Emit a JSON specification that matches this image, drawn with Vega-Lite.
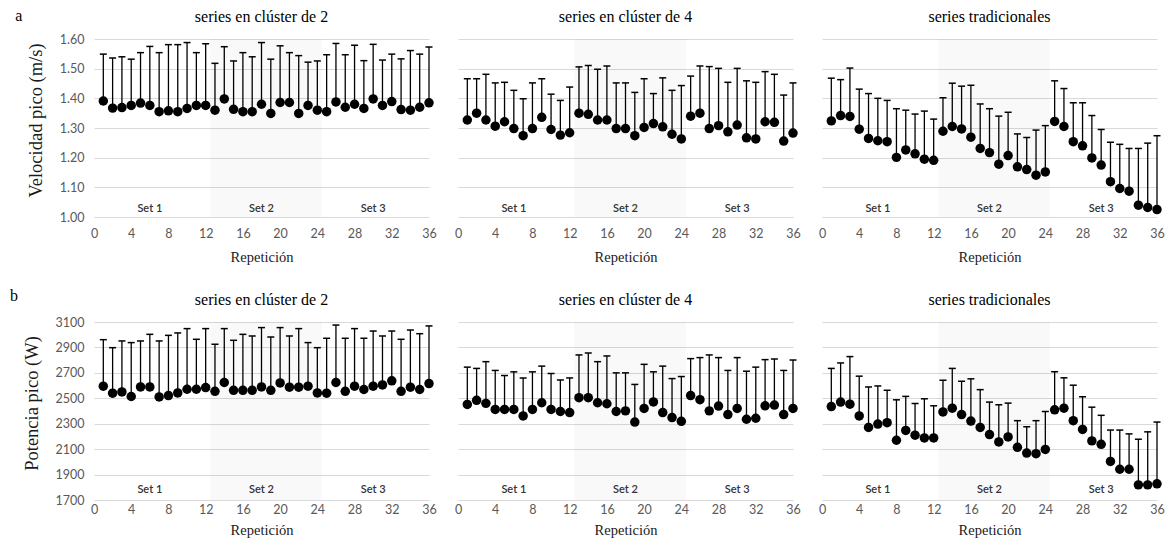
{
"$schema": "https://vega.github.io/schema/vega-lite/v6.json",
"padding": {"left": 10, "top": 8, "right": 1, "bottom": 3},
"config": {
  "view": {"stroke": null},
  "axis": {"grid": false, "domain": false, "ticks": false, "labelFont": "Lato", "labelFontSize": 12.5, "labelColor": "#595959", "titleFont": "Liberation Serif", "titleFontWeight": "normal", "titleColor": "#1a1a1a", "labelOverlap": false, "tickCount": 12},
  "axisX": {"titleFontSize": 14.5, "labelFlush": false},
  "axisY": {"titleFontSize": 18.5, "labelPadding": 10, "titlePadding": 14, "titleY": 81, "grid": true, "gridColor": "#d9d9d9", "gridWidth": 1},
  "header": {"labelFont": "Liberation Serif", "labelFontSize": 16, "labelColor": "#000", "labelPadding": 14, "title": null},
  "title": {"font": "Liberation Serif", "fontSize": 16, "fontWeight": "normal", "color": "#000"},
  "concat": {"spacing": 24}
},
"datasets": {"d": [
{"m":"v","c":"c2","r":1,"y":1.391,"u":1.549},{"m":"v","c":"c2","r":2,"y":1.367,"u":1.536},{"m":"v","c":"c2","r":3,"y":1.369,"u":1.540},{"m":"v","c":"c2","r":4,"y":1.376,"u":1.532},{"m":"v","c":"c2","r":5,"y":1.384,"u":1.554},{"m":"v","c":"c2","r":6,"y":1.376,"u":1.575},{"m":"v","c":"c2","r":7,"y":1.355,"u":1.554},{"m":"v","c":"c2","r":8,"y":1.358,"u":1.581},{"m":"v","c":"c2","r":9,"y":1.355,"u":1.581},{"m":"v","c":"c2","r":10,"y":1.366,"u":1.588},{"m":"v","c":"c2","r":11,"y":1.376,"u":1.554},{"m":"v","c":"c2","r":12,"y":1.376,"u":1.584},{"m":"v","c":"c2","r":13,"y":1.360,"u":1.518},{"m":"v","c":"c2","r":14,"y":1.398,"u":1.574},{"m":"v","c":"c2","r":15,"y":1.363,"u":1.526},{"m":"v","c":"c2","r":16,"y":1.355,"u":1.554},{"m":"v","c":"c2","r":17,"y":1.355,"u":1.540},{"m":"v","c":"c2","r":18,"y":1.380,"u":1.588},{"m":"v","c":"c2","r":19,"y":1.349,"u":1.532},{"m":"v","c":"c2","r":20,"y":1.386,"u":1.577},{"m":"v","c":"c2","r":21,"y":1.386,"u":1.554},{"m":"v","c":"c2","r":22,"y":1.349,"u":1.544},{"m":"v","c":"c2","r":23,"y":1.376,"u":1.522},{"m":"v","c":"c2","r":24,"y":1.360,"u":1.526},{"m":"v","c":"c2","r":25,"y":1.355,"u":1.547},{"m":"v","c":"c2","r":26,"y":1.388,"u":1.585},{"m":"v","c":"c2","r":27,"y":1.370,"u":1.547},{"m":"v","c":"c2","r":28,"y":1.380,"u":1.579},{"m":"v","c":"c2","r":29,"y":1.366,"u":1.527},{"m":"v","c":"c2","r":30,"y":1.398,"u":1.582},{"m":"v","c":"c2","r":31,"y":1.376,"u":1.529},{"m":"v","c":"c2","r":32,"y":1.389,"u":1.549},{"m":"v","c":"c2","r":33,"y":1.362,"u":1.533},{"m":"v","c":"c2","r":34,"y":1.360,"u":1.561},{"m":"v","c":"c2","r":35,"y":1.370,"u":1.549},{"m":"v","c":"c2","r":36,"y":1.385,"u":1.573},
{"m":"v","c":"c4","r":1,"y":1.327,"u":1.466},{"m":"v","c":"c4","r":2,"y":1.350,"u":1.466},{"m":"v","c":"c4","r":3,"y":1.327,"u":1.481},{"m":"v","c":"c4","r":4,"y":1.306,"u":1.452},{"m":"v","c":"c4","r":5,"y":1.321,"u":1.454},{"m":"v","c":"c4","r":6,"y":1.298,"u":1.427},{"m":"v","c":"c4","r":7,"y":1.274,"u":1.399},{"m":"v","c":"c4","r":8,"y":1.298,"u":1.452},{"m":"v","c":"c4","r":9,"y":1.336,"u":1.466},{"m":"v","c":"c4","r":10,"y":1.295,"u":1.414},{"m":"v","c":"c4","r":11,"y":1.276,"u":1.393},{"m":"v","c":"c4","r":12,"y":1.284,"u":1.438},{"m":"v","c":"c4","r":13,"y":1.350,"u":1.506},{"m":"v","c":"c4","r":14,"y":1.346,"u":1.511},{"m":"v","c":"c4","r":15,"y":1.327,"u":1.498},{"m":"v","c":"c4","r":16,"y":1.327,"u":1.509},{"m":"v","c":"c4","r":17,"y":1.298,"u":1.452},{"m":"v","c":"c4","r":18,"y":1.298,"u":1.452},{"m":"v","c":"c4","r":19,"y":1.274,"u":1.420},{"m":"v","c":"c4","r":20,"y":1.302,"u":1.466},{"m":"v","c":"c4","r":21,"y":1.315,"u":1.416},{"m":"v","c":"c4","r":22,"y":1.304,"u":1.469},{"m":"v","c":"c4","r":23,"y":1.279,"u":1.427},{"m":"v","c":"c4","r":24,"y":1.263,"u":1.443},{"m":"v","c":"c4","r":25,"y":1.340,"u":1.475},{"m":"v","c":"c4","r":26,"y":1.350,"u":1.509},{"m":"v","c":"c4","r":27,"y":1.298,"u":1.507},{"m":"v","c":"c4","r":28,"y":1.308,"u":1.501},{"m":"v","c":"c4","r":29,"y":1.287,"u":1.454},{"m":"v","c":"c4","r":30,"y":1.310,"u":1.501},{"m":"v","c":"c4","r":31,"y":1.267,"u":1.459},{"m":"v","c":"c4","r":32,"y":1.263,"u":1.454},{"m":"v","c":"c4","r":33,"y":1.321,"u":1.490},{"m":"v","c":"c4","r":34,"y":1.319,"u":1.481},{"m":"v","c":"c4","r":35,"y":1.256,"u":1.411},{"m":"v","c":"c4","r":36,"y":1.283,"u":1.452},
{"m":"v","c":"t","r":1,"y":1.324,"u":1.468},{"m":"v","c":"t","r":2,"y":1.342,"u":1.463},{"m":"v","c":"t","r":3,"y":1.339,"u":1.502},{"m":"v","c":"t","r":4,"y":1.296,"u":1.431},{"m":"v","c":"t","r":5,"y":1.265,"u":1.416},{"m":"v","c":"t","r":6,"y":1.257,"u":1.400},{"m":"v","c":"t","r":7,"y":1.254,"u":1.393},{"m":"v","c":"t","r":8,"y":1.201,"u":1.365},{"m":"v","c":"t","r":9,"y":1.226,"u":1.360},{"m":"v","c":"t","r":10,"y":1.213,"u":1.347},{"m":"v","c":"t","r":11,"y":1.195,"u":1.357},{"m":"v","c":"t","r":12,"y":1.191,"u":1.330},{"m":"v","c":"t","r":13,"y":1.289,"u":1.402},{"m":"v","c":"t","r":14,"y":1.305,"u":1.451},{"m":"v","c":"t","r":15,"y":1.297,"u":1.441},{"m":"v","c":"t","r":16,"y":1.269,"u":1.444},{"m":"v","c":"t","r":17,"y":1.231,"u":1.381},{"m":"v","c":"t","r":18,"y":1.217,"u":1.365},{"m":"v","c":"t","r":19,"y":1.178,"u":1.340},{"m":"v","c":"t","r":20,"y":1.207,"u":1.353},{"m":"v","c":"t","r":21,"y":1.169,"u":1.280},{"m":"v","c":"t","r":22,"y":1.160,"u":1.268},{"m":"v","c":"t","r":23,"y":1.141,"u":1.293},{"m":"v","c":"t","r":24,"y":1.152,"u":1.308},{"m":"v","c":"t","r":25,"y":1.322,"u":1.459},{"m":"v","c":"t","r":26,"y":1.305,"u":1.433},{"m":"v","c":"t","r":27,"y":1.254,"u":1.385},{"m":"v","c":"t","r":28,"y":1.240,"u":1.385},{"m":"v","c":"t","r":29,"y":1.199,"u":1.342},{"m":"v","c":"t","r":30,"y":1.175,"u":1.295},{"m":"v","c":"t","r":31,"y":1.119,"u":1.252},{"m":"v","c":"t","r":32,"y":1.096,"u":1.245},{"m":"v","c":"t","r":33,"y":1.087,"u":1.231},{"m":"v","c":"t","r":34,"y":1.040,"u":1.231},{"m":"v","c":"t","r":35,"y":1.032,"u":1.249},{"m":"v","c":"t","r":36,"y":1.025,"u":1.274},
{"m":"p","c":"c2","r":1,"y":2595,"u":2961},{"m":"p","c":"c2","r":2,"y":2540,"u":2898},{"m":"p","c":"c2","r":3,"y":2550,"u":2951},{"m":"p","c":"c2","r":4,"y":2514,"u":2938},{"m":"p","c":"c2","r":5,"y":2589,"u":2951},{"m":"p","c":"c2","r":6,"y":2589,"u":3003},{"m":"p","c":"c2","r":7,"y":2511,"u":2951},{"m":"p","c":"c2","r":8,"y":2521,"u":2995},{"m":"p","c":"c2","r":9,"y":2542,"u":3014},{"m":"p","c":"c2","r":10,"y":2571,"u":3048},{"m":"p","c":"c2","r":11,"y":2571,"u":2964},{"m":"p","c":"c2","r":12,"y":2584,"u":3048},{"m":"p","c":"c2","r":13,"y":2555,"u":2925},{"m":"p","c":"c2","r":14,"y":2624,"u":3048},{"m":"p","c":"c2","r":15,"y":2563,"u":2956},{"m":"p","c":"c2","r":16,"y":2563,"u":3003},{"m":"p","c":"c2","r":17,"y":2563,"u":2990},{"m":"p","c":"c2","r":18,"y":2589,"u":3056},{"m":"p","c":"c2","r":19,"y":2563,"u":2982},{"m":"p","c":"c2","r":20,"y":2621,"u":3056},{"m":"p","c":"c2","r":21,"y":2587,"u":2990},{"m":"p","c":"c2","r":22,"y":2587,"u":3048},{"m":"p","c":"c2","r":23,"y":2595,"u":2938},{"m":"p","c":"c2","r":24,"y":2542,"u":2898},{"m":"p","c":"c2","r":25,"y":2540,"u":2972},{"m":"p","c":"c2","r":26,"y":2624,"u":3076},{"m":"p","c":"c2","r":27,"y":2555,"u":2972},{"m":"p","c":"c2","r":28,"y":2595,"u":3048},{"m":"p","c":"c2","r":29,"y":2569,"u":2972},{"m":"p","c":"c2","r":30,"y":2595,"u":3029},{"m":"p","c":"c2","r":31,"y":2605,"u":2990},{"m":"p","c":"c2","r":32,"y":2637,"u":3029},{"m":"p","c":"c2","r":33,"y":2555,"u":2964},{"m":"p","c":"c2","r":34,"y":2587,"u":3037},{"m":"p","c":"c2","r":35,"y":2569,"u":3008},{"m":"p","c":"c2","r":36,"y":2616,"u":3069},
{"m":"p","c":"c4","r":1,"y":2452,"u":2745},{"m":"p","c":"c4","r":2,"y":2484,"u":2735},{"m":"p","c":"c4","r":3,"y":2460,"u":2788},{"m":"p","c":"c4","r":4,"y":2412,"u":2719},{"m":"p","c":"c4","r":5,"y":2412,"u":2679},{"m":"p","c":"c4","r":6,"y":2412,"u":2708},{"m":"p","c":"c4","r":7,"y":2361,"u":2660},{"m":"p","c":"c4","r":8,"y":2412,"u":2708},{"m":"p","c":"c4","r":9,"y":2465,"u":2753},{"m":"p","c":"c4","r":10,"y":2412,"u":2695},{"m":"p","c":"c4","r":11,"y":2396,"u":2644},{"m":"p","c":"c4","r":12,"y":2388,"u":2660},{"m":"p","c":"c4","r":13,"y":2505,"u":2841},{"m":"p","c":"c4","r":14,"y":2505,"u":2857},{"m":"p","c":"c4","r":15,"y":2465,"u":2788},{"m":"p","c":"c4","r":16,"y":2457,"u":2833},{"m":"p","c":"c4","r":17,"y":2396,"u":2700},{"m":"p","c":"c4","r":18,"y":2401,"u":2700},{"m":"p","c":"c4","r":19,"y":2313,"u":2609},{"m":"p","c":"c4","r":20,"y":2420,"u":2767},{"m":"p","c":"c4","r":21,"y":2471,"u":2708},{"m":"p","c":"c4","r":22,"y":2388,"u":2753},{"m":"p","c":"c4","r":23,"y":2348,"u":2655},{"m":"p","c":"c4","r":24,"y":2319,"u":2671},{"m":"p","c":"c4","r":25,"y":2521,"u":2812},{"m":"p","c":"c4","r":26,"y":2489,"u":2820},{"m":"p","c":"c4","r":27,"y":2401,"u":2841},{"m":"p","c":"c4","r":28,"y":2439,"u":2820},{"m":"p","c":"c4","r":29,"y":2372,"u":2719},{"m":"p","c":"c4","r":30,"y":2420,"u":2820},{"m":"p","c":"c4","r":31,"y":2335,"u":2713},{"m":"p","c":"c4","r":32,"y":2343,"u":2745},{"m":"p","c":"c4","r":33,"y":2441,"u":2804},{"m":"p","c":"c4","r":34,"y":2447,"u":2809},{"m":"p","c":"c4","r":35,"y":2372,"u":2719},{"m":"p","c":"c4","r":36,"y":2420,"u":2801},
{"m":"p","c":"t","r":1,"y":2435,"u":2735},{"m":"p","c":"t","r":2,"y":2470,"u":2778},{"m":"p","c":"t","r":3,"y":2454,"u":2828},{"m":"p","c":"t","r":4,"y":2361,"u":2674},{"m":"p","c":"t","r":5,"y":2271,"u":2589},{"m":"p","c":"t","r":6,"y":2297,"u":2597},{"m":"p","c":"t","r":7,"y":2308,"u":2563},{"m":"p","c":"t","r":8,"y":2170,"u":2488},{"m":"p","c":"t","r":9,"y":2247,"u":2515},{"m":"p","c":"t","r":10,"y":2210,"u":2459},{"m":"p","c":"t","r":11,"y":2188,"u":2496},{"m":"p","c":"t","r":12,"y":2188,"u":2441},{"m":"p","c":"t","r":13,"y":2393,"u":2642},{"m":"p","c":"t","r":14,"y":2422,"u":2735},{"m":"p","c":"t","r":15,"y":2372,"u":2634},{"m":"p","c":"t","r":16,"y":2321,"u":2653},{"m":"p","c":"t","r":17,"y":2271,"u":2568},{"m":"p","c":"t","r":18,"y":2215,"u":2470},{"m":"p","c":"t","r":19,"y":2157,"u":2449},{"m":"p","c":"t","r":20,"y":2196,"u":2462},{"m":"p","c":"t","r":21,"y":2114,"u":2324},{"m":"p","c":"t","r":22,"y":2069,"u":2276},{"m":"p","c":"t","r":23,"y":2064,"u":2324},{"m":"p","c":"t","r":24,"y":2098,"u":2396},{"m":"p","c":"t","r":25,"y":2409,"u":2709},{"m":"p","c":"t","r":26,"y":2422,"u":2661},{"m":"p","c":"t","r":27,"y":2324,"u":2603},{"m":"p","c":"t","r":28,"y":2255,"u":2512},{"m":"p","c":"t","r":29,"y":2165,"u":2430},{"m":"p","c":"t","r":30,"y":2138,"u":2366},{"m":"p","c":"t","r":31,"y":2003,"u":2250},{"m":"p","c":"t","r":32,"y":1942,"u":2250},{"m":"p","c":"t","r":33,"y":1942,"u":2220},{"m":"p","c":"t","r":34,"y":1819,"u":2178},{"m":"p","c":"t","r":35,"y":1819,"u":2236},{"m":"p","c":"t","r":36,"y":1827,"u":2313}
]},
"vconcat": [
{
  "data": {"name": "d"},
  "transform": [{"filter": "datum.m == 'v'"}],
  "title": {"text": "a", "orient": "left", "angle": 0, "anchor": "end", "frame": "bounds", "baseline": "top", "align": "left", "offset": 4, "dy": -1},
  "spacing": 24,
  "facet": {"column": {"field": "c", "type": "nominal", "header": {"labelExpr": "datum.value == 'c2' ? 'series en clúster de 2' : datum.value == 'c4' ? 'series en clúster de 4' : 'series tradicionales'"}}},
  "spec": {
    "width": 335, "height": 178,
    "encoding": {"x": {"field": "r", "type": "quantitative", "scale": {"domain": [0, 36], "nice": false}, "axis": {"values": [0,4,8,12,16,20,24,28,32,36], "title": "Repetición", "labelPadding": 10, "titlePadding": 11}}},
    "layer": [
      {"transform": [{"filter": "datum.r == 1"}], "mark": {"type": "rect", "color": "#000", "opacity": 0.025}, "encoding": {"x": {"datum": 12.5}, "x2": {"datum": 24.5}}},
      {"mark": {"type": "rule", "color": "#000", "strokeWidth": 1.3}, "encoding": {"y": {"field": "y", "type": "quantitative", "scale": {"domain": [1.0, 1.6], "nice": false}, "axis": {"values": [1.0,1.1,1.2,1.3,1.4,1.5,1.6], "format": ".2f", "title": "Velocidad pico (m/s)"}}, "y2": {"field": "u"}}},
      {"mark": {"type": "tick", "orient": "horizontal", "color": "#000", "size": 7, "thickness": 1.5, "opacity": 1}, "encoding": {"y": {"field": "u", "type": "quantitative"}}},
      {"mark": {"type": "circle", "color": "#000", "size": 90, "opacity": 1}, "encoding": {"y": {"field": "y", "type": "quantitative"}}},
      {"transform": [{"filter": "datum.r == 1"}], "mark": {"type": "text", "font": "Lato", "fontSize": 11, "fontWeight": 600, "color": "#333"}, "encoding": {"x": {"datum": 6}, "y": {"datum": 1.026}, "text": {"value": "Set 1"}}},
      {"transform": [{"filter": "datum.r == 1"}], "mark": {"type": "text", "font": "Lato", "fontSize": 11, "fontWeight": 600, "color": "#333"}, "encoding": {"x": {"datum": 18}, "y": {"datum": 1.026}, "text": {"value": "Set 2"}}},
      {"transform": [{"filter": "datum.r == 1"}], "mark": {"type": "text", "font": "Lato", "fontSize": 11, "fontWeight": 600, "color": "#333"}, "encoding": {"x": {"datum": 30}, "y": {"datum": 1.026}, "text": {"value": "Set 3"}}}
    ]
  }
},
{
  "data": {"name": "d"},
  "transform": [{"filter": "datum.m == 'p'"}],
  "title": {"text": "b", "orient": "left", "angle": 0, "anchor": "end", "frame": "bounds", "baseline": "top", "align": "left", "offset": 4, "dy": -4},
  "spacing": 24,
  "facet": {"column": {"field": "c", "type": "nominal", "header": {"labelExpr": "datum.value == 'c2' ? 'series en clúster de 2' : datum.value == 'c4' ? 'series en clúster de 4' : 'series tradicionales'"}}},
  "spec": {
    "width": 335, "height": 178,
    "encoding": {"x": {"field": "r", "type": "quantitative", "scale": {"domain": [0, 36], "nice": false}, "axis": {"values": [0,4,8,12,16,20,24,28,32,36], "title": "Repetición", "labelPadding": 3, "titlePadding": 8}}},
    "layer": [
      {"transform": [{"filter": "datum.r == 1"}], "mark": {"type": "rect", "color": "#000", "opacity": 0.025}, "encoding": {"x": {"datum": 12.5}, "x2": {"datum": 24.5}}},
      {"mark": {"type": "rule", "color": "#000", "strokeWidth": 1.3}, "encoding": {"y": {"field": "y", "type": "quantitative", "scale": {"domain": [1700, 3100], "nice": false}, "axis": {"values": [1700,1900,2100,2300,2500,2700,2900,3100], "format": "d", "title": "Potencia pico (W)"}}, "y2": {"field": "u"}}},
      {"mark": {"type": "tick", "orient": "horizontal", "color": "#000", "size": 7, "thickness": 1.5, "opacity": 1}, "encoding": {"y": {"field": "u", "type": "quantitative"}}},
      {"mark": {"type": "circle", "color": "#000", "size": 90, "opacity": 1}, "encoding": {"y": {"field": "y", "type": "quantitative"}}},
      {"transform": [{"filter": "datum.r == 1"}], "mark": {"type": "text", "font": "Lato", "fontSize": 11, "fontWeight": 600, "color": "#333"}, "encoding": {"x": {"datum": 6}, "y": {"datum": 1776}, "text": {"value": "Set 1"}}},
      {"transform": [{"filter": "datum.r == 1"}], "mark": {"type": "text", "font": "Lato", "fontSize": 11, "fontWeight": 600, "color": "#333"}, "encoding": {"x": {"datum": 18}, "y": {"datum": 1776}, "text": {"value": "Set 2"}}},
      {"transform": [{"filter": "datum.r == 1"}], "mark": {"type": "text", "font": "Lato", "fontSize": 11, "fontWeight": 600, "color": "#333"}, "encoding": {"x": {"datum": 30}, "y": {"datum": 1776}, "text": {"value": "Set 3"}}}
    ]
  }
}
]
}
